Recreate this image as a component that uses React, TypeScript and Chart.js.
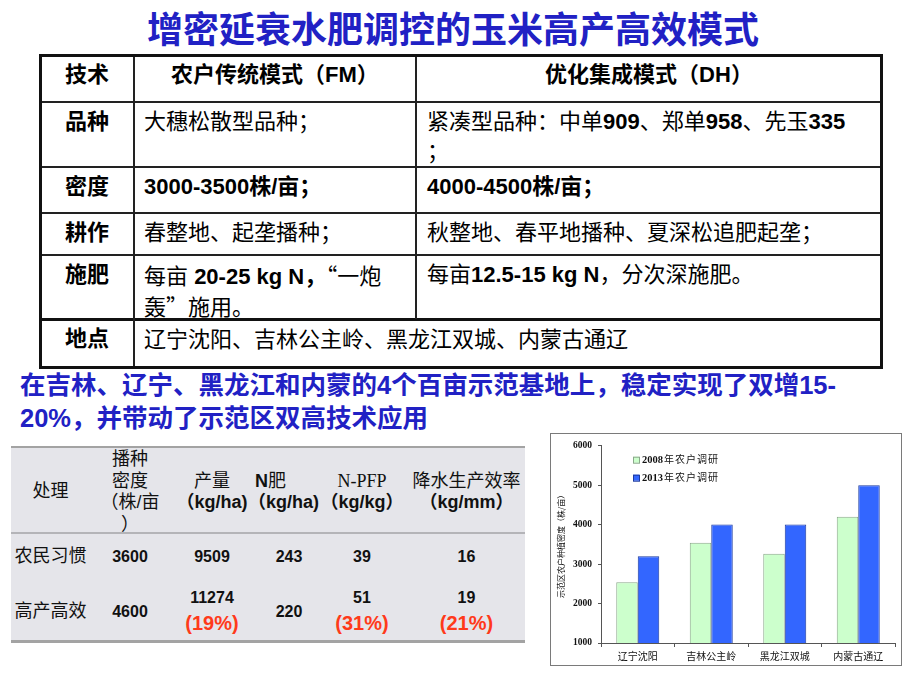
import React, { useEffect, useRef } from 'react';
import { Chart, registerables } from 'chart.js';

Chart.register(...registerables);

// ---------- chart data ----------
const categories = ['辽宁沈阳', '吉林公主岭', '黑龙江双城', '内蒙古通辽'];
const seriesLabels = ['2008年农户调研', '2013年农户调研'];
const density2008 = [2540, 3540, 3260, 4200];
const density2013 = [3200, 4000, 4000, 5000];
const yMin = 1000;
const yMax = 6000;
const yStep = 1000;
const yTitle = '示范区农户种植密度（株/亩）';

// ---------- lower table data ----------
const treatments = ['农民习惯', '高产高效'];
const plantDensity = ['3600', '4600'];
const grainYield = ['9509', '11274'];
const nFertilizer = ['243', '220'];
const nPfp = ['39', '51'];
const wue = ['16', '19'];
const increases = ['(19%)', '(31%)', '(21%)'];

const BLUE = '#2121c4';
const FONT = '"Liberation Sans", "Noto Sans CJK SC", sans-serif';
const CJK = '"Noto Sans CJK SC", sans-serif';

const legendPlugin = {
  id: 'insideLegend',
  afterDraw(chart: any) {
    const ctx = chart.ctx;
    const { left, top } = chart.chartArea;
    chart.data.datasets.forEach((ds: any, i: number) => {
      const y = top + 14 + i * 18;
      const bx = left + 32;
      ctx.save();
      ctx.fillStyle = ds.backgroundColor;
      ctx.fillRect(bx, y - 3, 6, 6);
      ctx.strokeStyle = ds.borderColor;
      ctx.lineWidth = 1;
      ctx.strokeRect(bx + 0.5, y - 2.5, 6, 6);
      const m = /^(\d+)(.*)$/.exec(ds.label) || ['', '', ds.label];
      ctx.textBaseline = 'middle';
      ctx.fillStyle = '#111';
      let x = bx + 9;
      ctx.font = 'bold 10.5px "Liberation Serif"';
      ctx.fillText(m[1], x, y + 0.5);
      x += ctx.measureText(m[1]).width;
      ctx.font = '10px "Noto Sans CJK SC"';
      (ctx as any).letterSpacing = '1px';
      ctx.fillText(m[2], x + 1, y);
      ctx.restore();
    });
  },
};

function DensityChart() {
  const ref = useRef<HTMLCanvasElement>(null);
  useEffect(() => {
    if (!ref.current) return;
    const chart = new Chart(ref.current, {
      type: 'bar',
      data: {
        labels: categories,
        datasets: [
          {
            label: seriesLabels[0],
            data: density2008,
            backgroundColor: '#ccffcc',
            borderColor: '#8aa88a',
            borderWidth: 1,
            categoryPercentage: 0.585,
            barPercentage: 1,
          },
          {
            label: seriesLabels[1],
            data: density2013,
            backgroundColor: '#3366ff',
            borderColor: '#1c3a9e',
            borderWidth: 1,
            categoryPercentage: 0.585,
            barPercentage: 1,
          },
        ],
      },
      options: {
        animation: false,
        responsive: false,
        maintainAspectRatio: false,
        layout: { padding: { top: 11, right: 6, left: 0, bottom: 0 } },
        plugins: { legend: { display: false }, tooltip: { enabled: false } },
        scales: {
          x: {
            grid: { display: true, drawOnChartArea: false, drawTicks: true, tickLength: 4, color: '#555', offset: true },
            border: { display: true, color: '#555', width: 1 },
            ticks: { font: { size: 10, family: CJK }, color: '#111', padding: 3, maxRotation: 0, autoSkip: false },
            afterFit: (s: any) => { s.height = 22; },
          },
          y: {
            min: yMin,
            max: yMax,
            ticks: {
              stepSize: yStep,
              callback: (v: any) => String(v),
              font: { size: 9.5, weight: 'bold', family: '"Liberation Serif"' },
              color: '#111',
              padding: 6,
            },
            grid: { display: true, drawOnChartArea: false, drawTicks: true, tickLength: 3, color: '#555' },
            border: { display: true, color: '#555', width: 1 },
            title: { display: true, text: yTitle, font: { size: 8, family: CJK }, color: '#111', padding: { top: 5, bottom: 0 } },
            afterFit: (s: any) => { s.width = 50; },
          },
        },
      } as any,
      plugins: [legendPlugin],
    });
    return () => chart.destroy();
  }, []);
  return <canvas ref={ref} width={350} height={231} style={{ display: 'block', width: 350, height: 231 }} />;
}

const Abs = ({ x, y, w, h, style, children }: any) => (
  <div style={{ position: 'absolute', left: x, top: y, width: w, height: h, boxSizing: 'border-box', ...style }}>{children}</div>
);

const HLine = ({ x1, x2, y, t = 2, c = '#222' }: any) => (
  <Abs x={x1} y={y - Math.floor(t / 2)} w={x2 - x1} h={t} style={{ background: c }} />
);
const VLine = ({ x, y1, y2, t = 2, c = '#222' }: any) => (
  <Abs x={x - Math.floor(t / 2)} y={y1} w={t} h={y2 - y1} style={{ background: c }} />
);

// main table geometry
const colX = [40, 134, 416, 882];
const rowY = [55, 102, 167, 213, 255, 319, 368];

function MainTable() {
  const cellStyle: any = { padding: '5px 0 0 10px', lineHeight: '30px', fontSize: 22, whiteSpace: 'nowrap', color: '#000' };
  const labelStyle: any = { ...cellStyle, padding: '5px 0 0 0', textAlign: 'center', fontWeight: 'bold' };
  const labels = ['技术', '品种', '密度', '耕作', '施肥', '地点'];
  const q = (s: string) => <span style={{ fontFamily: CJK }}>{s}</span>;
  return (
    <>
      {labels.map((l, i) => (
        <Abs key={l} x={colX[0]} y={rowY[i]} w={colX[1] - colX[0]} h={rowY[i + 1] - rowY[i]} style={labelStyle}>{l}</Abs>
      ))}
      <Abs x={colX[1]} y={rowY[0]} w={colX[2] - colX[1]} h={47} style={{ ...labelStyle }}>农户传统模式（FM）</Abs>
      <Abs x={colX[2]} y={rowY[0]} w={colX[3] - colX[2]} h={47} style={{ ...labelStyle }}>优化集成模式（DH）</Abs>

      <Abs x={colX[1]} y={rowY[1]} w={282} h={65} style={cellStyle}>大穗松散型品种；</Abs>
      <Abs x={colX[2]} y={rowY[1]} w={466} h={65} style={{ ...cellStyle, paddingLeft: 11 }}>
        紧凑型品种：中单<b>909</b>、郑单<b>958</b>、先玉<b>335</b><br />；
      </Abs>

      <Abs x={colX[1]} y={rowY[2]} w={282} h={46} style={{ ...cellStyle, fontWeight: 'bold' }}>3000-3500株/亩；</Abs>
      <Abs x={colX[2]} y={rowY[2]} w={466} h={46} style={{ ...cellStyle, paddingLeft: 11, fontWeight: 'bold' }}>4000-4500株/亩；</Abs>

      <Abs x={colX[1]} y={rowY[3]} w={282} h={42} style={cellStyle}>春整地、起垄播种；</Abs>
      <Abs x={colX[2]} y={rowY[3]} w={466} h={42} style={{ ...cellStyle, paddingLeft: 11 }}>秋整地、春平地播种、夏深松追肥起垄；</Abs>

      <Abs x={colX[1]} y={rowY[4]} w={282} h={64} style={{ ...cellStyle, lineHeight: '29px' }}>
        每亩 <b>20-25 kg N，</b>{q('“')}一炮<br />轰{q('”')}施用。
      </Abs>
      <Abs x={colX[2]} y={rowY[4]} w={466} h={64} style={{ ...cellStyle, paddingLeft: 11 }}>
        每亩<b>12.5-15 kg N</b>，分次深施肥。
      </Abs>

      <Abs x={colX[1]} y={rowY[5]} w={748} h={49} style={{ ...cellStyle, paddingTop: 6 }}>辽宁沈阳、吉林公主岭、黑龙江双城、内蒙古通辽</Abs>

      {[rowY[1], rowY[2], rowY[3], rowY[4]].map((y) => (
        <HLine key={y} x1={40} x2={882} y={y} t={2} />
      ))}
      <HLine x1={40} x2={882} y={rowY[5]} t={3} c="#111" />
      <VLine x={colX[1]} y1={rowY[0]} y2={rowY[6]} t={2} />
      <VLine x={colX[2]} y1={rowY[0]} y2={rowY[5]} t={2} />
      <Abs x={39} y={54} w={844} h={315} style={{ border: '3px solid #111' }} />
    </>
  );
}

// lower table geometry
const tX = [11, 90, 170, 254, 316, 408, 525];

function ResultTable() {
  const base: any = {
    display: 'flex', flexDirection: 'column', alignItems: 'center', justifyContent: 'center',
    fontSize: 18, lineHeight: '21.5px', color: '#111', whiteSpace: 'nowrap', textAlign: 'center',
  };
  const numStyle: any = { fontWeight: 'bold', fontSize: 16 };
  const redStyle: any = { fontWeight: 'bold', fontSize: 20, color: '#ff3a1a', lineHeight: '28px' };
  const hy = 449, hh = 86;
  const cw = (i: number) => tX[i + 1] - tX[i];
  const rows = [533, 588];
  const rh = 48;
  return (
    <>
      <Abs x={11} y={447} w={514} h={195} style={{ background: '#e5e5ea' }} />
      <HLine x1={11} x2={525} y={447} t={2} c="#a3a3a3" />
      <HLine x1={11} x2={525} y={533} t={2} c="#b4b4b8" />
      <HLine x1={11} x2={525} y={641} t={3} c="#a3a3a3" />

      <Abs x={tX[0]} y={hy} w={cw(0)} h={hh} style={base}>处理</Abs>
      <Abs x={tX[1]} y={hy} w={cw(1)} h={hh} style={base}>
        <div>播种</div><div>密度</div><div>（株/亩</div><div>）</div>
      </Abs>
      <Abs x={tX[2]} y={hy} w={cw(2)} h={hh} style={base}>
        <div>产量</div><div style={{ fontWeight: 'bold' }}>（kg/ha)</div>
      </Abs>
      <Abs x={tX[3] - 6} y={hy} w={cw(3) + 6} h={hh} style={{ ...base, alignItems: 'flex-start' }}>
        <div style={{ paddingLeft: 7 }}><b>N</b>肥</div><div style={{ fontWeight: 'bold' }}>（kg/ha)</div>
      </Abs>
      <Abs x={tX[4]} y={hy} w={cw(4)} h={hh} style={base}>
        <div style={{ fontFamily: '"Liberation Serif", serif' }}>N-PFP</div><div style={{ fontWeight: 'bold' }}>（kg/kg）</div>
      </Abs>
      <Abs x={tX[5]} y={hy} w={cw(5)} h={hh} style={base}>
        <div>降水生产效率</div><div style={{ fontWeight: 'bold' }}>（kg/mm）</div>
      </Abs>

      {treatments.map((t, r) => (
        <React.Fragment key={t}>
          <Abs x={tX[0]} y={rows[r]} w={cw(0)} h={rh} style={base}>{t}</Abs>
          <Abs x={tX[1]} y={rows[r]} w={cw(1)} h={rh} style={{ ...base, ...numStyle }}>{plantDensity[r]}</Abs>
          <Abs x={tX[2]} y={rows[r]} w={cw(2)} h={rh} style={base}>
            <div style={{ ...numStyle, lineHeight: '22px' }}>{grainYield[r]}</div>
            {r === 1 && <div style={redStyle}>{increases[0]}</div>}
          </Abs>
          <Abs x={tX[3]} y={rows[r]} w={cw(3) + 8} h={rh} style={{ ...base, ...numStyle }}>{nFertilizer[r]}</Abs>
          <Abs x={tX[4]} y={rows[r]} w={cw(4)} h={rh} style={base}>
            <div style={{ ...numStyle, lineHeight: '22px' }}>{nPfp[r]}</div>
            {r === 1 && <div style={redStyle}>{increases[1]}</div>}
          </Abs>
          <Abs x={tX[5]} y={rows[r]} w={cw(5)} h={rh} style={base}>
            <div style={{ ...numStyle, lineHeight: '22px' }}>{wue[r]}</div>
            {r === 1 && <div style={redStyle}>{increases[2]}</div>}
          </Abs>
        </React.Fragment>
      ))}
    </>
  );
}

export default function App() {
  return (
    <div style={{ position: 'absolute', left: 0, top: 0, width: 920, height: 690, background: '#fff', overflow: 'hidden', fontFamily: FONT }}>
      <Abs x={0} y={7} w={906} h={40} style={{ textAlign: 'center', fontSize: 36, lineHeight: '40px', fontWeight: 'bold', color: BLUE, fontFamily: CJK, whiteSpace: 'nowrap' }}>
        增密延衰水肥调控的玉米高产高效模式
      </Abs>
      <MainTable />
      <Abs x={20} y={369} w={900} h={70} style={{ fontSize: 25.5, lineHeight: '33px', fontWeight: 'bold', color: BLUE, whiteSpace: 'nowrap' }}>
        在吉林、辽宁、黑龙江和内蒙的4个百亩示范基地上，稳定实现了双增15-<br />20%，并带动了示范区双高技术应用
      </Abs>
      <ResultTable />
      <Abs x={550} y={433} w={352} h={233} style={{ border: '1px solid #7a7a7a' }}>
        <DensityChart />
      </Abs>
    </div>
  );
}
